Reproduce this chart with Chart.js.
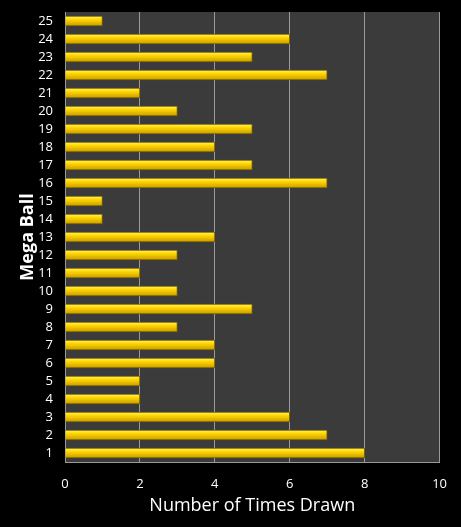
<!DOCTYPE html>
<html>
<head>
<meta charset="utf-8">
<script src="https://cdn.jsdelivr.net/npm/chart.js@4"></script>
<style>
	html, body { margin: 0; padding: 0; background: #000; }
	#wrap { width: 461px; height: 527px; }
</style>
</head>
<body>
<div id="wrap"><canvas id="chart"></canvas></div>
<script>
const megaBalls = ['1','2','3','4','5','6','7','8','9','10','11','12','13','14','15','16','17','18','19','20','21','22','23','24','25'];
const timesDrawn = [8, 7, 6, 2, 2, 4, 4, 3, 5, 3, 2, 3, 4, 1, 1, 7, 5, 4, 5, 3, 2, 7, 5, 6, 1];
const xTicks = [0, 2, 4, 6, 8, 10];

const ctx = document.getElementById("chart").getContext("2d");

const plotBackground = {
	id: 'plot_background',
	beforeDraw: (chart) => {
		const {ctx, chartArea: a} = chart;
		ctx.save();
		ctx.fillStyle = '#3b3b3b';
		ctx.fillRect(a.left, a.top, a.right - a.left, a.bottom - a.top);
		ctx.restore();
	}
};

// yellow bar with a light top edge, like the office-style bevel
function barFill(context) {
	const chart = context.chart;
	const yScale = chart.scales.y;
	if (!yScale || context.dataIndex === undefined) return '#f7cf00';
	const y = yScale.getPixelForValue(context.dataIndex);
	if (!isFinite(y)) return '#f7cf00';
	const g = chart.ctx.createLinearGradient(0, y - 5, 0, y + 5);
	g.addColorStop(0, '#fff27a');
	g.addColorStop(0.35, '#ffd800');
	g.addColorStop(1, '#c89a00');
	return g;
}

const chart = new Chart(ctx, {
	type: 'bar',
	data: {
		labels: megaBalls,
		datasets: [{
			data: timesDrawn,
			backgroundColor: barFill,
			borderColor: '#7a6200',
			borderWidth: 1,
			barThickness: 10,
		}]
	},
	options: {
		indexAxis: 'y',
		responsive: true,
		maintainAspectRatio: false,
		animation: false,
		layout: { padding: { top: 12, right: 19, bottom: 10, left: 17 } },
		scales: {
			x: {
				min: 0,
				max: 10,
				afterBuildTicks: (axis) => { axis.ticks = xTicks.map(v => ({value: v})); },
				afterFit: (axis) => { axis.height = 55; },
				ticks: {
					color: '#ffffff',
					font: { family: 'Open Sans', size: 13 },
					padding: 14,
				},
				grid: {
					color: '#9a9a9a',
					lineWidth: 1,
					drawTicks: false,
				},
				border: { display: true, color: '#9a9a9a' },
				title: {
					display: true,
					text: 'Number of Times Drawn',
					color: '#ffffff',
					font: { family: 'Open Sans', size: 18 },
					padding: { top: 2, bottom: 0 },
				}
			},
			y: {
				reverse: true,
				afterFit: (axis) => {
					axis.width = 48;
					axis.paddingTop = 0;
					axis.paddingBottom = 0;
				},
				ticks: {
					color: '#ffffff',
					font: { family: 'Open Sans', size: 13 },
					padding: 12,
					autoSkip: false,
				},
				grid: { display: false, drawTicks: false },
				border: { display: false },
				title: {
					display: true,
					text: 'Mega Ball',
					color: '#ffffff',
					font: { family: 'Open Sans', size: 18, weight: 'bold' },
					padding: { top: 0, bottom: 4 },
				}
			}
		},
		plugins: {
			legend: { display: false },
			title: { display: false },
			tooltip: { enabled: false },
		}
	},
	plugins: [plotBackground]
});
</script>
</body>
</html>
